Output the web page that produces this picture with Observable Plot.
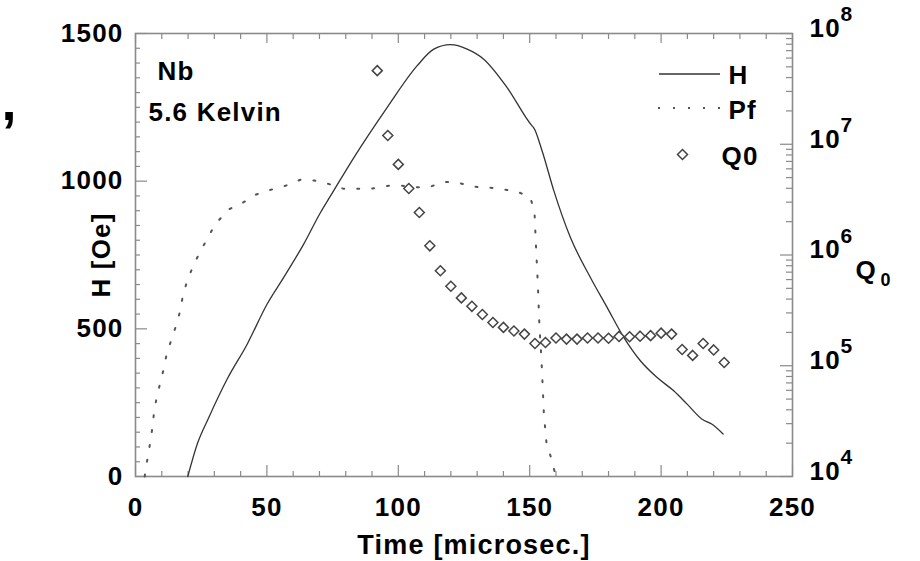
<!DOCTYPE html>
<html><head><meta charset="utf-8">
<script src="https://cdn.jsdelivr.net/npm/d3@7"></script>
<script src="https://cdn.jsdelivr.net/npm/@observablehq/plot@0.6"></script>
<style>
html,body{margin:0;padding:0;background:#fff;}
#chart svg{display:block;}
</style></head><body><div id="chart"></div>
<script>
// ---- data ----
const hTime  = [19.9, 23.5, 27.9, 34.9, 42.5, 50.1, 56.4, 64.0, 70.4, 74.2, 83.1, 95.8, 107.2, 113.5, 119.9, 126.2, 132.5, 141.4, 150.9, 151.6, 154.7, 159.2, 165.5, 173.1, 179.5, 185.8, 192.1, 198.5, 204.8, 209.9, 215.6, 219.4, 223.6];
const hValue = [0, 110, 200, 330, 448, 584, 674, 787, 894, 950, 1080, 1250, 1391, 1447, 1462, 1447, 1413, 1317, 1187, 1180, 1103, 967, 809, 674, 572, 471, 392, 335, 290, 245, 194, 177, 144];

const pfTime  = [3.5, 3.8, 4.8, 5.7, 6.5, 7.1, 8.1, 9.5, 10.8, 11.9, 13.8, 15.7, 17.1, 18.0, 19.7, 21.9, 24.4, 27.3, 30.4, 35.4, 41.0, 45.9, 51.5, 57.0, 62.8, 68.0, 73.7, 79.3, 84.7, 90.0, 95.5, 101.2, 106.5, 112.0, 117.5, 123.4, 128.9, 134.0, 139.4, 145.2, 150.2, 151.8, 152.3, 153.1, 153.7, 154.4, 154.9, 155.4, 156.4, 158.2, 159.6, 160.0];
const pfValue = [0, 22, 72, 121, 171, 221, 270, 320, 367, 417, 467, 518, 564, 612, 663, 712, 758, 805, 855, 904, 928, 955, 971, 984, 1005, 1002, 990, 974, 974, 975, 984, 985, 979, 981, 998, 993, 981, 979, 973, 965, 945, 900, 798, 651, 508, 409, 313, 211, 112, 62, 12, 0];

const q0Time  = [92, 96, 100, 104, 108, 112, 116, 120, 124, 128, 132, 136, 140, 144, 148, 152, 156, 160, 164, 168, 172, 176, 180, 184, 188, 192, 196, 200, 204, 208, 212, 216, 220, 224];
const q0Value = [4.62e7, 1.20e7, 6.58e6, 3.98e6, 2.42e6, 1.21e6, 7.21e5, 5.22e5, 4.10e5, 3.44e5, 2.90e5, 2.46e5, 2.22e5, 2.06e5, 1.93e5, 1.59e5, 1.62e5, 1.78e5, 1.74e5, 1.74e5, 1.78e5, 1.78e5, 1.77e5, 1.84e5, 1.83e5, 1.85e5, 1.87e5, 1.97e5, 1.93e5, 1.40e5, 1.24e5, 1.59e5, 1.39e5, 1.07e5];

const xTicks = [0, 50, 100, 150, 200, 250];
const hTicks = [0, 500, 1000, 1500];
const q0Exponents = [4, 5, 6, 7, 8];
const seriesNames = ["H", "Pf", "Q0"];

// ---- derived tables ----
const hData  = hTime.map((t, i) => ({t, v: hValue[i]}));
const pfData = pfTime.map((t, i) => ({t, v: pfValue[i]}));
const qData  = q0Time.map((t, i) => ({t, q: q0Value[i]}));

// the right (log) axis is mapped onto the left axis range
const qToY = d3.scaleLog().domain([1e4, 1e8]).range([0, 1500]);

const W = 920, H = 561, ML = 135, MR = 128, MT = 33, MB = 85;
const PW = W - ML - MR, PH = H - MT - MB;
const grey = "#8a8a8a";

const xMinor = d3.range(0, 251, 10).filter(d => d % 50 !== 0);
const hMinor = d3.range(0, 1501, 50).filter(d => d % 500 !== 0);
const qMinor = [];
for (let e = 4; e < 8; e++) for (let m = 2; m <= 9; m++) qMinor.push(m * 10 ** e);
const qMajor = q0Exponents.map(e => 10 ** e);

// legend swatch lines (custom mark drawn relative to frame)
function legendLines(index, scales, values, dims) {
  const R = dims.width - dims.marginRight, T = dims.marginTop;
  const g = d3.create("svg:g");
  g.append("line").attr("x1", R - 133).attr("x2", R - 72).attr("y1", T + 41).attr("y2", T + 41)
    .attr("stroke", "#333").attr("stroke-width", 1.3);
  g.append("line").attr("x1", R - 134).attr("x2", R - 71).attr("y1", T + 75).attr("y2", T + 75)
    .attr("stroke", "#555").attr("stroke-width", 2).attr("stroke-dasharray", "2,13");
  return g.node();
}

const T = {lineAnchor: "middle"};

const chart = Plot.plot({
  width: W, height: H,
  marginLeft: ML, marginRight: MR, marginTop: MT, marginBottom: MB,
  style: {fontFamily: "'Liberation Sans', Arial, sans-serif", fontWeight: "bold", fontSize: "26px", letterSpacing: "1.2px", color: "#000", background: "#fff"},
  x: {domain: [0, 250], axis: null},
  y: {domain: [0, 1500], axis: null},
  marks: [
    // ticks (pointing inward)
    Plot.tickX(xMinor, {x: d => d, stroke: grey, strokeWidth: 1.2, insetTop: PH - 5}),
    Plot.tickX(xTicks, {x: d => d, stroke: grey, strokeWidth: 1.2, insetTop: PH - 11}),
    Plot.tickX(xMinor, {x: d => d, stroke: grey, strokeWidth: 1.2, insetBottom: PH - 6}),
    Plot.tickX(xTicks, {x: d => d, stroke: grey, strokeWidth: 1.2, insetBottom: PH - 10}),
    Plot.tickY(hMinor, {y: d => d, stroke: grey, strokeWidth: 1.2, insetRight: PW - 5}),
    Plot.tickY(hTicks, {y: d => d, stroke: grey, strokeWidth: 1.2, insetRight: PW - 12}),
    Plot.tickY(qMinor, {y: d => qToY(d), stroke: grey, strokeWidth: 1.2, insetLeft: PW - 6}),
    Plot.tickY(qMajor, {y: d => qToY(d), stroke: grey, strokeWidth: 1.2, insetLeft: PW - 12}),
    Plot.frame({stroke: grey, strokeWidth: 1.6}),
    // axis labels
    Plot.axisY({ticks: hTicks, tickSize: 0, tickPadding: 12, tickFormat: d => String(d), fontSize: 26, label: null}),
    Plot.axisX({ticks: xTicks, tickSize: 0, tickPadding: 21, tickFormat: d => String(d), fontSize: 26, label: null}),
    Plot.text(q0Exponents, {y: e => qToY(10 ** e), text: () => "10", frameAnchor: "right", textAnchor: "start", lineAnchor: "middle", dx: 17, dy: -5, fontSize: 26}),
    Plot.text(q0Exponents, {y: e => qToY(10 ** e), text: e => String(e), frameAnchor: "right", textAnchor: "start", lineAnchor: "middle", dx: 48, dy: -19, fontSize: 21}),
    Plot.text(["H [Oe]"], {...T, frameAnchor: "left", textAnchor: "middle", rotate: -90, dx: -34, fontSize: 26}),
    Plot.text(["Time [microsec.]"], {...T, frameAnchor: "bottom", textAnchor: "middle", dx: 10, dy: 69, fontSize: 27}),
    Plot.text(["Q"], {...T, frameAnchor: "right", textAnchor: "start", dx: 63, dy: 16, fontSize: 26}),
    Plot.text(["0"], {...T, frameAnchor: "right", textAnchor: "start", dx: 88, dy: 25, fontSize: 18}),
    Plot.text([","], {...T, frameAnchor: "top-left", textAnchor: "start", dx: -134, dy: 69, fontSize: 54}),
    // annotations
    Plot.text(["Nb"], {...T, frameAnchor: "top-left", textAnchor: "start", dx: 22, dy: 38, fontSize: 26, letterSpacing: "4px"}),
    Plot.text(["5.6 Kelvin"], {...T, frameAnchor: "top-left", textAnchor: "start", dx: 13, dy: 79, fontSize: 26}),
    // data
    Plot.line(pfData, {x: "t", y: "v", stroke: "#555", strokeWidth: 2, strokeDasharray: "2,13"}),
    Plot.line(hData, {x: "t", y: "v", stroke: "#333", strokeWidth: 1.3, curve: "monotone-x"}),
    Plot.dot(qData, {x: "t", y: d => qToY(d.q), symbol: "diamond2", r: 4.5, stroke: "#444", strokeWidth: 1.5, fill: "white"}),
    // legend
    legendLines,
    Plot.text([seriesNames[0]], {...T, frameAnchor: "top-right", textAnchor: "start", dx: -64, dy: 42, fontSize: 26}),
    Plot.text([seriesNames[1]], {...T, frameAnchor: "top-right", textAnchor: "start", dx: -64, dy: 77, fontSize: 26}),
    Plot.dot([seriesNames[2]], {frameAnchor: "top-right", symbol: "diamond2", r: 4.5, stroke: "#444", strokeWidth: 1.5, dx: -110, dy: 121}),
    Plot.text([seriesNames[2]], {...T, frameAnchor: "top-right", textAnchor: "start", dx: -71, dy: 123, fontSize: 26, letterSpacing: "3px"})
  ]
});
document.getElementById("chart").appendChild(chart);
</script></body></html>
